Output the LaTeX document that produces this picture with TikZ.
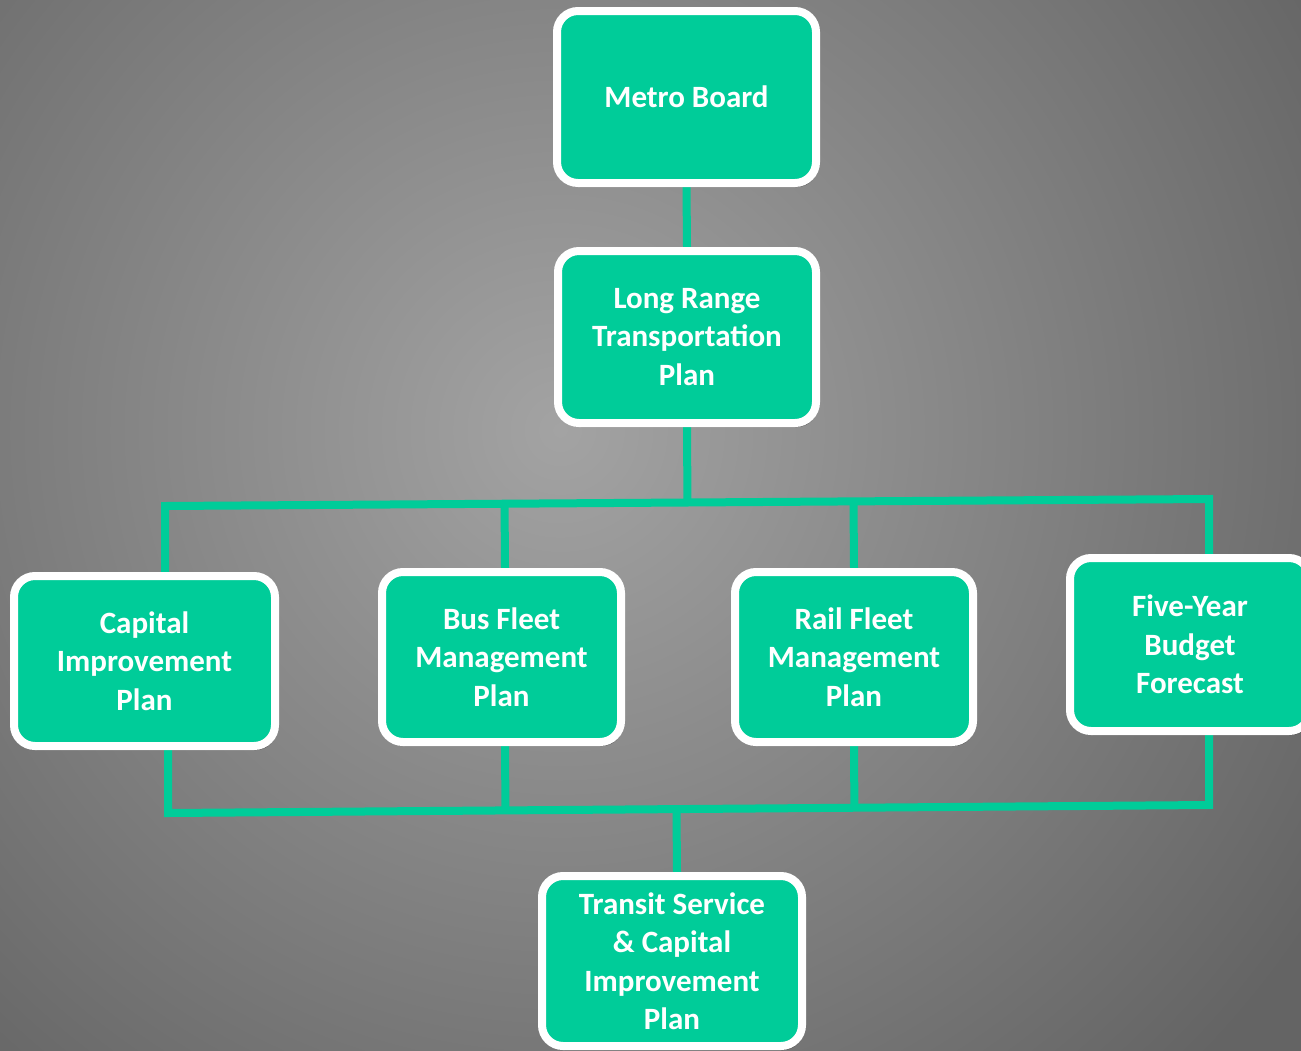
\documentclass[tikz,border=0pt]{standalone}
\usepackage{fontspec}
\setmainfont{Carlito}
\usetikzlibrary{calc,shadows}
\definecolor{teal1}{RGB}{0,204,153}
\definecolor{bginner}{RGB}{163,163,163}
\definecolor{bgouter}{RGB}{100,100,100}
\pgfdeclarelayer{bglayer}
\pgfdeclarelayer{connlayer}
\pgfsetlayers{bglayer,connlayer,main}
\tikzset{
  box/.style={draw=white, line width=8pt, fill=teal1, rounded corners=21pt,
    align=center, text=white, font=\bfseries\fontsize{31}{38.5}\selectfont,
    inner sep=0pt,
    drop shadow={shadow xshift=2pt, shadow yshift=-4pt, opacity=0.35, fill=black}},
  conn/.style={draw=teal1, line width=8pt, line join=miter}
}
\begin{document}
\begin{tikzpicture}[x=1pt,y=-1pt]
\useasboundingbox (0,0) rectangle (1301,1050);
\begin{pgfonlayer}{bglayer}
  \fill[bgouter] (-10,-10) rectangle (1311,1060);
  \begin{scope}
    \clip (-10,-10) rectangle (1311,1060);
    \shade[inner color=bginner, outer color=bgouter] (560,430) circle (900);
  \end{scope}
\end{pgfonlayer}

\node[box, minimum width=259pt, minimum height=172pt] (metro) at (686.5,97) {Metro Board};
\node[box, minimum width=258pt, minimum height=172pt] (lrtp) at (687,337) {Long Range\\Transportation\\Plan};
\node[box, minimum width=261pt, minimum height=170pt] (cap) at (144.5,661) {Capital\\Improvement\\Plan};
\node[box, minimum width=239pt, minimum height=170pt] (bus) at (501.5,657) {Bus Fleet\\Management\\Plan};
\node[box, minimum width=238pt, minimum height=170pt] (rail) at (854,657) {Rail Fleet\\Management\\Plan};
\node[box, minimum width=240pt, minimum height=173pt] (five) at (1190,644.5) {Five-Year\\Budget\\Forecast};
\node[box, minimum width=260pt, minimum height=170pt] (tsc) at (672,961) {Transit Service\\\& Capital\\Improvement\\Plan};

\coordinate (topL) at (165,506);
\coordinate (topR) at (1209,499);
\coordinate (botL) at (168,813);
\coordinate (botR) at (1209,805);

\begin{pgfonlayer}{connlayer}
  \draw[conn] (metro.south) -- (lrtp.north);
  \draw[conn] (cap.north -| topL) -- (topL) -- (topR) -- (five.north -| topR);
  \draw[conn] (lrtp.south) -- ($(topL)!(lrtp.south)!(topR)$);
  \draw[conn] ([xshift=3.5pt]bus.north) -- ($(topL)!([xshift=3.5pt]bus.north)!(topR)$);
  \draw[conn] (rail.north) -- ($(topL)!(rail.north)!(topR)$);
  \draw[conn] (cap.south -| botL) -- (botL) -- (botR) -- (five.south -| botR);
  \draw[conn] ([xshift=3.5pt]bus.south) -- ($(botL)!([xshift=3.5pt]bus.south)!(botR)$);
  \draw[conn] (rail.south) -- ($(botL)!(rail.south)!(botR)$);
  \draw[conn] ([xshift=5pt]tsc.north) -- ($(botL)!([xshift=5pt]tsc.north)!(botR)$);
\end{pgfonlayer}
\end{tikzpicture}
\end{document}
